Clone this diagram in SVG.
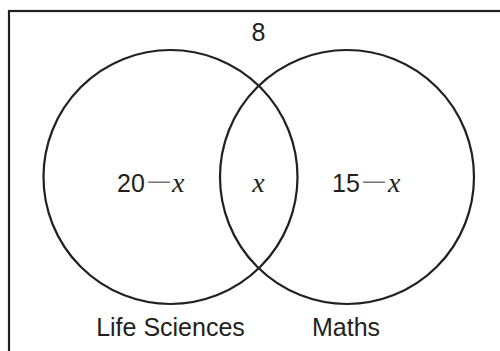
<svg xmlns="http://www.w3.org/2000/svg" width="500" height="351" viewBox="0 0 500 351">
<style>
.ln{fill:none;stroke:#231f20;stroke-width:2.2}
.t{font-family:"Liberation Sans",Arial,sans-serif;font-size:25px;fill:#231f20}
.m{font-family:"Liberation Serif","Times New Roman",serif;font-style:italic;font-size:28px;fill:#231f20}
.d{font-family:"Liberation Sans",Arial,sans-serif;font-size:22px;fill:#777}
</style>
<rect width="500" height="351" fill="#fff"/>
<g id="universe">
<rect class="ln" x="9" y="11" width="520" height="370"/>
<text class="t" x="258.5" y="41" text-anchor="middle">8</text>
</g>
<g id="life-sciences">
<circle class="ln" cx="170.5" cy="177" r="127"/>
<text class="t" x="117" y="192">20<tspan class="d" x="148" dy="-4">—</tspan><tspan class="m" x="172" dy="4">x</tspan></text>
<text class="t" x="170.5" y="336" text-anchor="middle">Life Sciences</text>
</g>
<g id="maths">
<circle class="ln" cx="347" cy="177" r="127"/>
<text class="t" x="332" y="192">15<tspan class="d" x="363" dy="-4">—</tspan><tspan class="m" x="388" dy="4">x</tspan></text>
<text class="t" x="346" y="336" text-anchor="middle">Maths</text>
</g>
<g id="intersection">
<text class="m" x="258.5" y="192" text-anchor="middle">x</text>
</g>
</svg>
